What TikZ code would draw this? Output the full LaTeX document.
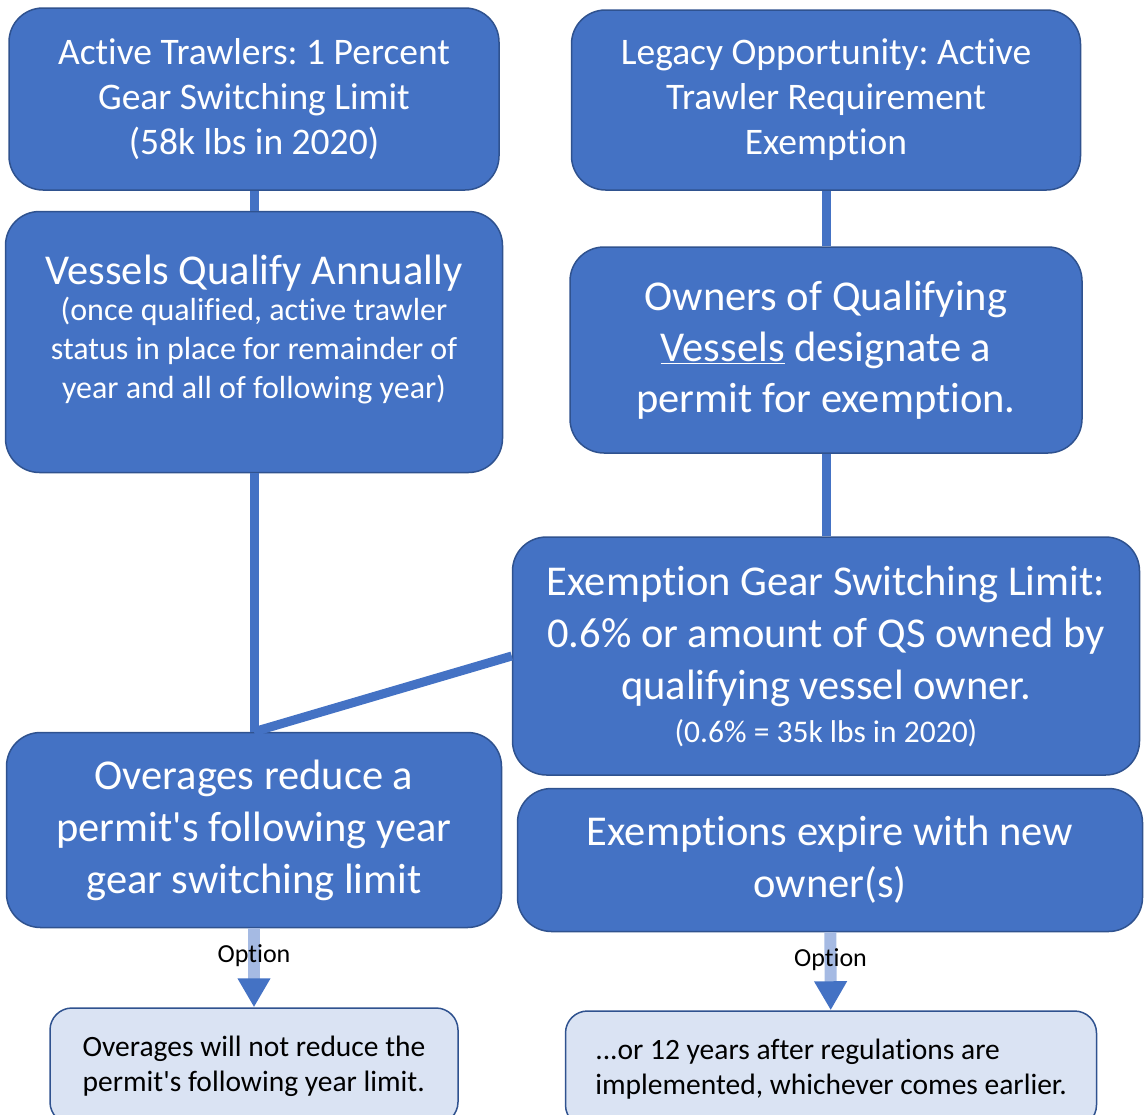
\documentclass[tikz,border=0pt]{standalone}
\usepackage{fontspec}
\setmainfont{Carlito}[Ligatures=NoCommon]
\usetikzlibrary{arrows.meta}
\definecolor{boxblue}{HTML}{4472C4}
\definecolor{boxedge}{HTML}{2F528F}
\definecolor{notefill}{HTML}{DAE3F3}
\definecolor{shaftblue}{HTML}{A5BAE3}
\frenchspacing
\begin{document}
\begin{tikzpicture}[x=1pt, y=-1pt,
    every node/.style = {shape=rectangle, align=center, inner sep=0pt},
    bluebox/.style = {draw=boxedge, line width=1.5pt, fill=boxblue, text=white, rounded corners=34pt},
    notebox/.style = {draw=boxedge, line width=1.5pt, fill=notefill, text=black, rounded corners=22pt,
        font=\fontsize{29.5}{35}\selectfont},
    link/.style = {draw=boxblue, line width=9pt},
    optarrow/.style = {draw=shaftblue, line width=12pt, -{Triangle[width=31pt, length=29pt, color=boxblue]}},
    optlabel/.style = {font=\fontsize{26}{30}\selectfont, text=black}]
    \useasboundingbox (0,0) rectangle (1146,1114);
    \node[bluebox, minimum width=490pt, minimum height=182pt, font=\fontsize{37.5}{45}\selectfont] (trawlers) at (254,99) {
        Active Trawlers: 1 Percent \\
        Gear Switching Limit \\
        (58k lbs in 2020)
    };
    \node[bluebox, minimum width=509pt, minimum height=180pt, font=\fontsize{37.5}{45}\selectfont] (legacy) at (826,100) {
        Legacy Opportunity: Active \\
        Trawler Requirement \\
        Exemption
    };
    \node[bluebox, minimum width=497pt, minimum height=261pt, font=\fontsize{32}{39}\selectfont] (qualify) at (254,342) {
        {\fontsize{42.5}{45}\selectfont Vessels Qualify Annually} \\[-3pt]
        (once qualified, active trawler \\
        status in place for remainder of \\
        year and all of following year) \\[-9pt]
    };
    \node[bluebox, minimum width=512pt, minimum height=206pt, font=\fontsize{42.5}{51}\selectfont] (owners) at (826,350) {
        Owners of Qualifying \\
        \underline{Vessels} designate a \\
        permit for exemption.
    };
    \node[bluebox, minimum width=627pt, minimum height=238pt, font=\fontsize{42.5}{52}\selectfont] (exemption) at (826,656) {
        Exemption Gear Switching Limit: \\
        0.6\% or amount of QS owned by \\
        qualifying vessel owner. \\[-9pt]
        {\fontsize{31.5}{32}\selectfont (0.6\% = 35k lbs in 2020)}
    };
    \node[bluebox, minimum width=495pt, minimum height=195pt, font=\fontsize{42.5}{52}\selectfont] (overages) at (254,830) {
        Overages reduce a \\
        permit\textquotesingle s following year \\
        gear switching limit
    };
    \node[bluebox, minimum width=625pt, minimum height=143pt, font=\fontsize{42.5}{52}\selectfont] (expire) at (830,860) {
        Exemptions expire with new \\
        owner(s)
    };
    \node[notebox, align=left, minimum width=408pt, minimum height=116pt] (noreduce) at (254,1066) {
        Overages will not reduce the \\
        permit\textquotesingle s following year limit.
    };
    \node[notebox, align=left, minimum width=531pt, minimum height=116pt] (twelve) at (831,1069) {
        ...or 12 years after regulations are \\
        implemented, whichever comes earlier.
    };
    \draw[link] (trawlers) -- (qualify);
    \draw[link] (legacy) -- (owners);
    \draw[link] (qualify) -- (overages);
    \draw[link] (owners) -- (exemption);
    \draw[link] (exemption.west) -- (overages.north);
    \draw[optarrow] (overages) -- (noreduce) node[optlabel, pos=0.35] {Option};
    \draw[optarrow] (expire) -- (twelve) node[optlabel, pos=0.35] {Option};
\end{tikzpicture}
\end{document}
